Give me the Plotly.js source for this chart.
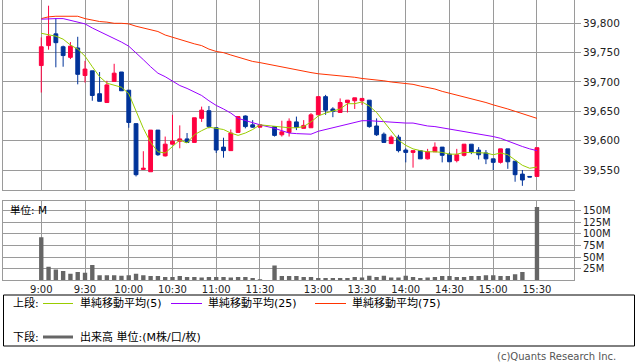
<!DOCTYPE html>
<html>
<head>
<meta charset="utf-8">
<script src="https://cdn.plot.ly/plotly-3.0.1.min.js"></script>
<style>html,body{margin:0;padding:0;background:#fff;}#chart{width:638px;height:362px;}</style>
</head>
<body>
<div id="chart"></div>
<script>
// ---- data (5-minute bars) ----
var times = ["9:00","9:05","9:10","9:15","9:20","9:25","9:30","9:35","9:40","9:45","9:50","9:55",
  "10:00","10:05","10:10","10:15","10:20","10:25","10:30","10:35","10:40","10:45","10:50","10:55",
  "11:00","11:05","11:10","11:15","11:20","11:25","11:30",
  "12:30","12:35","12:40","12:45","12:50","12:55",
  "13:00","13:05","13:10","13:15","13:20","13:25","13:30","13:35","13:40","13:45","13:50","13:55",
  "14:00","14:05","14:10","14:15","14:20","14:25","14:30","14:35","14:40","14:45","14:50","14:55",
  "15:00","15:05","15:10","15:15","15:20","15:25","15:30"];
var openP  = [39728,39762,39782,39760,39742,39758,39711,39719,39680,39665,39701,39717,39686,39629,39551,39547,39618,39574,39594,39599,39603,39597,39638,39651,39622,39589,39583,39614,39642,39627,39623,
  39624,39610,39614,39632,39621,39622,39644,39675,39654,39648,39665,39668,39668,39669,39625,39611,39595,39606,39584,39580,39583,39569,39581,39589,39577,39566,39575,39594,39584,39579,39569,39563,39586,39565,39543,39539,39539];
var highP  = [39776,39830,39809,39762,39768,39777,39736,39719,39717,39702,39731,39717,39686,39629,39582,39618,39618,39607,39644,39626,39613,39639,39658,39659,39622,39605,39619,39641,39643,39635,39627,
  39625,39634,39638,39641,39635,39647,39675,39678,39657,39672,39669,39673,39672,39669,39638,39614,39609,39610,39587,39583,39583,39586,39597,39589,39580,39586,39594,39594,39589,39584,39569,39586,39586,39565,39550,39539,39588];
var lowP   = [39682,39755,39725,39726,39739,39696,39699,39668,39667,39665,39701,39685,39622,39539,39550,39547,39574,39573,39594,39587,39596,39597,39632,39621,39579,39571,39583,39614,39621,39622,39623,
  39607,39607,39607,39618,39621,39622,39644,39644,39640,39648,39648,39654,39661,39622,39608,39597,39595,39580,39563,39554,39569,39568,39581,39563,39564,39563,39573,39577,39568,39560,39550,39561,39552,39530,39523,39538,39539];
var closeP = [39760,39778,39767,39745,39761,39713,39722,39677,39667,39695,39715,39685,39631,39542,39553,39618,39576,39594,39599,39603,39597,39639,39652,39624,39584,39583,39613,39641,39624,39623,39627,
  39609,39615,39633,39623,39626,39644,39675,39652,39650,39665,39669,39673,39672,39624,39610,39597,39606,39583,39580,39583,39569,39581,39589,39575,39564,39576,39594,39581,39576,39569,39563,39586,39564,39542,39533,39538,39588];
var sma5   = [39783,39781,39778,39773,39763,39756,39744,39726,39709,39698,39694,39691,39680,39651,39621,39597,39581,39579,39590,39601,39596,39610,39617,39623,39621,39619,39613,39609,39613,39619,39627,
  39624,39623,39622,39622,39624,39632,39642,39647,39650,39654,39663,39663,39666,39659,39648,39632,39617,39601,39592,39586,39583,39581,39581,39580,39577,39577,39580,39580,39580,39579,39576,39579,39576,39567,39558,39553,39555];
var sma25  = [39807,39808,39808,39808,39805,39802,39799,39792,39786,39781,39775,39768,39761,39750,39738,39726,39715,39709,39702,39694,39689,39683,39677,39668,39660,39654,39647,39638,39634,39630,39627,
  39621,39617,39613,39612,39611,39611,39616,39619,39622,39626,39629,39632,39634,39634,39633,39632,39631,39630,39630,39630,39627,39625,39624,39622,39620,39618,39615,39614,39611,39609,39607,39604,39599,39595,39590,39586,39583];
var sma75  = [39808,39811,39812,39812,39812,39812,39808,39805,39803,39802,39800,39800,39799,39795,39792,39788,39786,39780,39776,39772,39769,39765,39762,39756,39752,39750,39746,39742,39739,39735,39733,
  39728,39725,39723,39720,39718,39716,39714,39713,39712,39710,39709,39708,39706,39705,39703,39702,39700,39699,39698,39696,39693,39691,39688,39684,39681,39678,39675,39672,39669,39665,39661,39658,39654,39650,39646,39642,39638];
var volumeM = [93,29,23,20,14,18,16,33,11,11,11,10,11,14,11,9,9,7,7,9,7,7,6,7,7,7,6,7,7,5,2,
  32,9,9,9,7,7,5,5,5,5,5,7,6,10,7,10,6,6,10,7,5,6,7,9,9,7,7,9,9,11,11,9,9,13,18,0.5,158];
var tickTimes = ["9:00","9:30","10:00","10:30","11:00","11:30","13:00","13:30","14:00","14:30","15:00","15:30"];
var priceTicks = [39550,39600,39650,39700,39750,39800];
var volTicks = [25,50,75,100,125,150];

// ---- time -> slot on a session axis (lunch break collapsed to one empty slot) ----
function slotOf(t){
  var p = t.split(":"), m = (+p[0])*60 + (+p[1]) - 540;
  var s = m/5;
  if (m >= 210) s -= 10;   // afternoon session
  return s;
}
var xs = times.map(slotOf);
var tickX = tickTimes.map(slotOf);

var W = 638, H = 362, L = 3, R = 64;
function px(x){ return (x - L)/(W - L - R); }
function py(y){ return 1 - y/H; }

var PINK = "#FF0040", BLUE = "#003399", GRID = "#9a9a9a";
var FONT = "DejaVu Sans, Noto Sans CJK JP, sans-serif";

var traces = [
  {type:"candlestick", x:xs, open:openP, high:highP, low:lowP, close:closeP, xaxis:"x", yaxis:"y",
   increasing:{line:{color:PINK,width:1}, fillcolor:PINK},
   decreasing:{line:{color:BLUE,width:1}, fillcolor:BLUE},
   whiskerwidth:0, hoverinfo:"skip", showlegend:false},
  {type:"scatter", mode:"lines", x:xs, y:sma75, line:{color:"#FF3300",width:1}, xaxis:"x", yaxis:"y", hoverinfo:"skip", showlegend:false},
  {type:"scatter", mode:"lines", x:xs, y:sma25, line:{color:"#9900FF",width:1}, xaxis:"x", yaxis:"y", hoverinfo:"skip", showlegend:false},
  {type:"scatter", mode:"lines", x:xs, y:sma5, line:{color:"#99CC00",width:1}, xaxis:"x", yaxis:"y", hoverinfo:"skip", showlegend:false},
  {type:"bar", x:xs, y:volumeM, width:0.6, marker:{color:"#666666", line:{width:0}}, xaxis:"x2", yaxis:"y2", hoverinfo:"skip", showlegend:false}
];

var xr = [-5.25, 73.08];
var commonX = {range:xr, tickvals:tickX, ticktext:tickTimes, showgrid:true, gridcolor:GRID, gridwidth:1,
  zeroline:false, ticks:"", fixedrange:true};
var layout = {
  width:W, height:H, margin:{l:L, r:R, t:0, b:0}, paper_bgcolor:"#fff", plot_bgcolor:"#fff",
  font:{family:FONT, size:10, color:"#222"},
  showlegend:false, boxgap:0.25,
  xaxis: Object.assign({}, commonX, {anchor:"y", showticklabels:false, showline:true, linecolor:GRID, mirror:false,
     rangeslider:{visible:false}}),
  xaxis2: Object.assign({}, commonX, {anchor:"y2", showticklabels:true, showline:true, linecolor:GRID, mirror:true,
     tickfont:{size:10, family:FONT, color:"#222"}}),
  yaxis: {domain:[0.4743,1], range:[39515.4,39839.7], side:"right", tickvals:priceTicks, tickformat:",d",
     ticks:"outside", ticklen:6, tickcolor:GRID, showline:true, linecolor:GRID, mirror:true,
     showgrid:true, gridcolor:GRID, zeroline:false, tickfont:{size:10.5, family:FONT, color:"#222"}, fixedrange:true},
  yaxis2: {domain:[0.2257,0.4448], range:[0,170.9], side:"right", tickvals:volTicks, ticktext:volTicks.map(function(v){return v+"M";}),
     ticks:"outside", ticklen:6, tickcolor:GRID, showline:true, linecolor:GRID, mirror:true,
     showgrid:true, gridcolor:GRID, zeroline:false, tickfont:{size:10, family:FONT, color:"#222"}, fixedrange:true},
  shapes: [
    {type:"rect", xref:"paper", yref:"paper", x0:px(3.5), x1:px(634.5), y0:py(346), y1:py(295), line:{color:"#000",width:1}},
    {type:"line", xref:"paper", yref:"paper", x0:px(43), x1:px(73), y0:py(303.5), y1:py(303.5), line:{color:"#99CC00",width:1}},
    {type:"line", xref:"paper", yref:"paper", x0:px(171), x1:px(202), y0:py(303.5), y1:py(303.5), line:{color:"#9900FF",width:1}},
    {type:"line", xref:"paper", yref:"paper", x0:px(315), x1:px(346), y0:py(303.5), y1:py(303.5), line:{color:"#FF3300",width:1}},
    {type:"line", xref:"paper", yref:"paper", x0:px(43), x1:px(73), y0:py(337), y1:py(337), line:{color:"#666666",width:3}}
  ],
  annotations: [
    {text:"単位: M", xref:"paper", yref:"paper", x:px(8), y:py(210), xanchor:"left", yanchor:"middle", showarrow:false, font:{size:10.5, color:"#000"}},
    {text:"上段:", xref:"paper", yref:"paper", x:px(11), y:py(303), xanchor:"left", yanchor:"middle", showarrow:false, font:{size:11, color:"#000"}},
    {text:"単純移動平均(5)", xref:"paper", yref:"paper", x:px(78), y:py(303), xanchor:"left", yanchor:"middle", showarrow:false, font:{size:11, color:"#000"}},
    {text:"単純移動平均(25)", xref:"paper", yref:"paper", x:px(206), y:py(303), xanchor:"left", yanchor:"middle", showarrow:false, font:{size:11, color:"#000"}},
    {text:"単純移動平均(75)", xref:"paper", yref:"paper", x:px(350), y:py(303), xanchor:"left", yanchor:"middle", showarrow:false, font:{size:11, color:"#000"}},
    {text:"下段:", xref:"paper", yref:"paper", x:px(11), y:py(337), xanchor:"left", yanchor:"middle", showarrow:false, font:{size:11, color:"#000"}},
    {text:"出来高 単位:(M株/口/枚)", xref:"paper", yref:"paper", x:px(78), y:py(337), xanchor:"left", yanchor:"middle", showarrow:false, font:{size:11, color:"#000"}},
    {text:"(c)Quants Research Inc.", xref:"paper", yref:"paper", x:px(618), y:py(356), xanchor:"right", yanchor:"middle", showarrow:false, font:{size:10, color:"#555"}}
  ]
};
Plotly.newPlot("chart", traces, layout, {staticPlot:true, displayModeBar:false});
</script>
</body>
</html>
